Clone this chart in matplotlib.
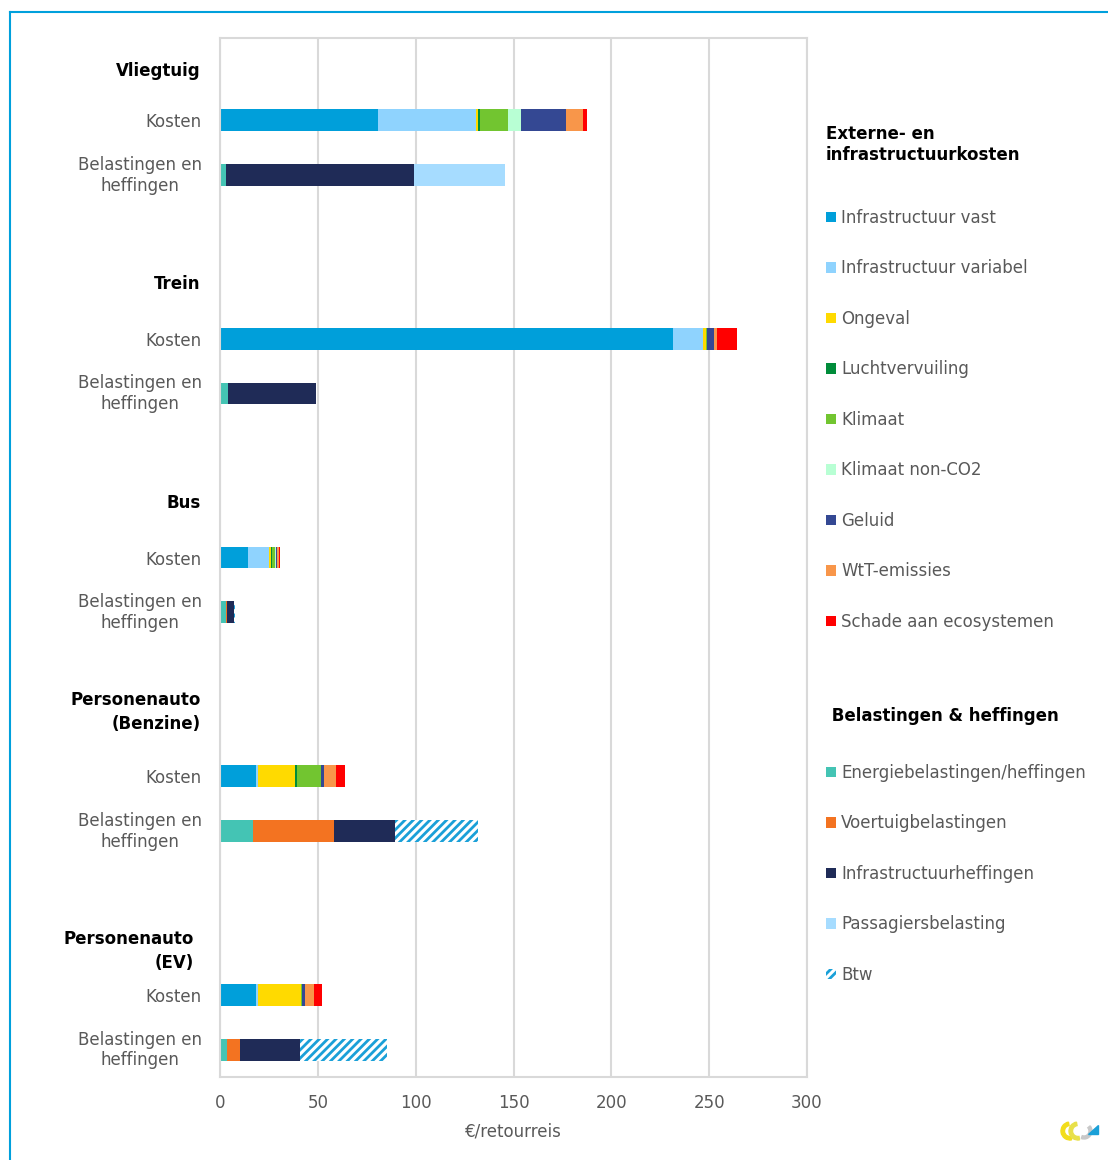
import numpy as np
import matplotlib
matplotlib.use('Agg')
import matplotlib.pyplot as plt
import matplotlib.transforms as mtransforms
from matplotlib.patches import Patch, Polygon, Wedge
from matplotlib.lines import Line2D

# modes (groups) and the two bars per group
modes = ['Vliegtuig', 'Trein', 'Bus', 'Personenauto\n(Benzine)', 'Personenauto\n(EV)']
row_labels = ['Kosten', 'Belastingen en\nheffingen']

# external and infrastructure costs (Kosten bars), EUR per return trip
cost_names = ['Infrastructuur vast', 'Infrastructuur variabel', 'Ongeval', 'Luchtvervuiling',
              'Klimaat', 'Klimaat non-CO2', 'Geluid', 'WtT-emissies', 'Schade aan ecosystemen']
infra_vast = [80.7, 231.7, 14.3, 18.6, 18.6]
infra_var = [50.1, 15.3, 10.8, 1.0, 1.0]
ongeval = [1.0, 1.3, 1.0, 18.9, 21.6]
lucht = [1.1, 0.2, 0.7, 0.9, 0.4]
klimaat = [14.3, 0.2, 1.3, 12.1, 0.3]
klimaat_nonco2 = [6.6, 0.0, 0.7, 0.0, 0.0]
geluid = [23.0, 3.8, 0.2, 1.7, 1.6]
wtt = [8.5, 1.5, 1.0, 6.3, 4.6]
schade = [2.1, 10.2, 0.7, 4.4, 4.0]
cost_vals = [infra_vast, infra_var, ongeval, lucht, klimaat, klimaat_nonco2, geluid, wtt, schade]
cost_cols = ['#009FDA', '#8FD3FE', '#FFDA00', '#008C3A', '#72C530', '#B8FFD4', '#344893',
             '#F8964A', '#FF0000']

# taxes and charges (Belastingen bars)
tax_names = ['Energiebelastingen/heffingen', 'Voertuigbelastingen', 'Infrastructuurheffingen',
             'Passagiersbelasting', 'Btw']
energie = [3.1, 4.1, 2.9, 16.7, 3.4]
voertuig = [0.0, 0.0, 0.8, 41.8, 6.8]
infra_heff = [96.0, 44.9, 3.5, 31.0, 30.7]
passagiers = [46.5, 0.0, 0.0, 0.0, 0.0]
btw = [0.0, 0.0, 0.5, 42.6, 44.3]
tax_vals = [energie, voertuig, infra_heff, passagiers, btw]
tax_cols = ['#44C4B4', '#F37321', '#1F2B57', '#A6DCFF', '#1AA0D8']

grey = '#595959'
fs = 12
plt.rcParams['font.family'] = ['DejaVu Sans']
plt.rcParams['hatch.linewidth'] = 2.0

fig = plt.figure(figsize=(11.08, 11.6), dpi=100)
ax = fig.add_axes([220/1108, 1-1077/1160, 587/1108, 1039/1160])

# rows: header, Kosten, Belastingen, blank for each mode
kost_rows = np.arange(len(modes))*4 + 1
tax_rows = kost_rows + 1
h = 0.40

left = np.zeros(len(modes))
for vals, col in zip(cost_vals, cost_cols):
    ax.barh(kost_rows, vals, left=left, height=h, color=col, linewidth=0)
    left += np.array(vals)

left = np.zeros(len(modes))
for i, (vals, col) in enumerate(zip(tax_vals, tax_cols)):
    if i == 4:
        ax.barh(tax_rows, vals, left=left, height=h, facecolor='white', edgecolor=col,
                hatch='////', linewidth=0)
    else:
        ax.barh(tax_rows, vals, left=left, height=h, color=col, linewidth=0)
    left += np.array(vals)

ax.set_xlim(0, 300)
ax.set_ylim(18.5, -0.5)
ax.set_xticks(np.arange(0, 301, 50))
ax.grid(axis='x', color='#D9D9D9', linewidth=1.5)
ax.set_axisbelow(True)
for s in ax.spines.values():
    s.set_color('#D9D9D9')
    s.set_linewidth(1.5)

yt = np.concatenate([kost_rows, tax_rows])
ax.set_yticks(yt)
ax.set_yticklabels([row_labels[0]]*len(modes) + [row_labels[1]]*len(modes),
                   multialignment='center')
ax.tick_params(axis='y', length=0, pad=13, labelsize=fs, labelcolor=grey)
ax.tick_params(axis='x', length=0, pad=12, labelsize=fs, labelcolor=grey)
ax.set_xlabel('€/retourreis', fontsize=fs, color=grey, labelpad=8)
for t in ax.get_yticklabels()[len(modes):]:
    t.set_transform(t.get_transform() + mtransforms.ScaledTranslation(0, 3/100, fig.dpi_scale_trans))

# mode headers
trans = mtransforms.blended_transform_factory(ax.transAxes, ax.transData)
head_y = [0.1, 4.0, 8.0, 11.82, 16.2]
head_x = [-0.033, -0.033, -0.033, -0.033, -0.045]
for m, yy, xx in zip(modes, head_y, head_x):
    ax.text(xx, yy, m, transform=trans, ha='right', va='center', fontsize=fs,
            fontweight='bold', multialignment='right', linespacing=1.45)

# legends
h1 = [Patch(facecolor=c, edgecolor='none') for c in cost_cols]
h2 = [Patch(facecolor=c, edgecolor='none') for c in tax_cols[:4]]
h2.append(Patch(facecolor='white', edgecolor=tax_cols[4], hatch='////', linewidth=0))
legkw = dict(frameon=False, fontsize=fs, handlelength=0.6, handleheight=0.6,
             handletextpad=0.3, labelspacing=1.95, alignment='left', borderaxespad=0,
             borderpad=0, labelcolor=grey)
leg1 = fig.legend(h1, cost_names, loc='upper left', bbox_to_anchor=(826/1108, 1-125/1160),
                  title='Externe- en\ninfrastructuurkosten', **legkw)
leg1.get_title().set_fontweight('bold')
leg1.get_title().set_fontsize(fs)
leg1.get_title().set_linespacing(1.25)
leg2 = fig.legend(h2, tax_names, loc='upper left', bbox_to_anchor=(826/1108, 1-707/1160),
                  title=' Belastingen & heffingen', **legkw)
leg2.get_title().set_fontweight('bold')
leg2.get_title().set_fontsize(fs)
leg1._legend_box.sep = 32
leg2._legend_box.sep = 28

# blue frame lines
fig.add_artist(Line2D([10/1108, 1], [1-12/1160, 1-12/1160], color='#00A0DC', linewidth=1.5))
fig.add_artist(Line2D([10/1108, 10/1108], [0, 1-12/1160], color='#00A0DC', linewidth=1.5))

# small logo bottom right
lax = fig.add_axes([1058/1108, 1-1146/1160, 44/1108, 30/1160])
lax.set_xlim(0, 44)
lax.set_ylim(0, 30)
lax.axis('off')
lax.add_patch(Wedge((12, 15), 9, 100, 280, width=3.5, color='#F2DD1B'))
lax.add_patch(Wedge((20, 15), 9, 100, 280, width=3.5, color='#E8E04A'))
lax.add_patch(Wedge((26, 15), 8, 250, 40, width=3, color='#C8C8C8'))
lax.add_patch(Polygon([[30, 12], [40, 12], [40, 21]], closed=True, color='#1AA0D8'))

fig.savefig('out.png', dpi=100)
